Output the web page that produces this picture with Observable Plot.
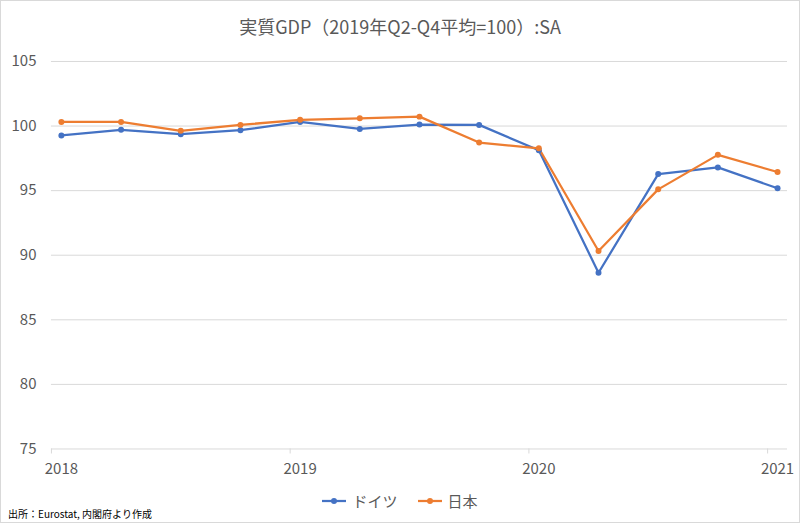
<!DOCTYPE html>
<html>
<head>
<meta charset="utf-8">
<script src="https://cdn.jsdelivr.net/npm/d3@7"></script>
<script src="https://cdn.jsdelivr.net/npm/@observablehq/plot@0.6"></script>
<style>
  html, body { margin: 0; padding: 0; background: #fff; }
  #chart { position: relative; width: 800px; height: 523px; box-sizing: border-box; border: 1px solid #d9d9d9; overflow: hidden; font-family: "Noto Sans CJK JP", "Noto Sans", sans-serif; }
  #title { position: absolute; left: 0; top: 12px; width: 798px; text-align: center; font-size: 18px; color: #595959; line-height: 26px; }
  #plot { position: absolute; left: -1px; top: 38px; }
  #legend { position: absolute; left: 0; top: 489px; width: 798px; display: flex; justify-content: center; gap: 20px; font-size: 15px; color: #595959; line-height: 22px; }
  #legend .item { display: flex; align-items: center; gap: 6px; }
  #caption { position: absolute; left: 7px; top: 506px; font-size: 10px; color: #000; line-height: 14px; }
</style>
</head>
<body>
<div id="chart">
  <div id="title">実質GDP（2019年Q2-Q4平均=100）:SA</div>
  <div id="plot"></div>
  <div id="legend"></div>
  <div id="caption">出所：Eurostat, 内閣府より作成</div>
</div>
<script>
const quarters = ["2018Q1","2018Q2","2018Q3","2018Q4","2019Q1","2019Q2","2019Q3","2019Q4","2020Q1","2020Q2","2020Q3","2020Q4","2021Q1"];
const germany = [99.27, 99.71, 99.37, 99.68, 100.32, 99.78, 100.12, 100.09, 98.12, 88.64, 96.28, 96.80, 95.18];
const japan   = [100.32, 100.32, 99.63, 100.09, 100.48, 100.60, 100.73, 98.72, 98.28, 90.33, 95.10, 97.77, 96.44];
const seriesNames = ["ドイツ", "日本"];
const seriesColors = ["#4472C4", "#ED7D31"];
const yearLabels = ["2018", "2019", "2020", "2021"];
const yTicks = [75, 80, 85, 90, 95, 100, 105];

// month index from Jan 2018
const monthIndex = q => (+q.slice(0, 4) - 2018) * 12 + (+q.slice(5) - 1) * 3;
const data = [];
quarters.forEach((q, i) => {
  data.push({m: monthIndex(q), v: germany[i], s: seriesNames[0]});
  data.push({m: monthIndex(q), v: japan[i], s: seriesNames[1]});
});
const yearPos = yearLabels.map(y => (+y - 2018) * 12);
const yearBoundaries = yearPos.map(p => p - 0.5);

const chart = Plot.plot({
  width: 800,
  height: 441,
  marginLeft: 51,
  marginRight: 12,
  marginTop: 22,
  marginBottom: 31,
  style: {fontFamily: "'Noto Sans CJK JP', 'Noto Sans', sans-serif", background: "transparent"},
  x: {domain: [-0.5, 36.5], axis: null, label: null},
  y: {domain: [75, 105], axis: null, label: null},
  color: {domain: seriesNames, range: seriesColors},
  marks: [
    Plot.gridY(yTicks, {stroke: "#d9d9d9", strokeOpacity: 1, strokeWidth: 1}),
    Plot.axisY(yTicks, {tickSize: 0, tickPadding: 15, fontSize: 15, color: "#595959", textAnchor: "end", label: null}),
    Plot.axisX(yearBoundaries, {tickSize: 5, tickFormat: () => "", stroke: "#d9d9d9", strokeOpacity: 1, label: null}),
    Plot.axisX(yearPos, {tickSize: 0, tickPadding: 14, fontSize: 15, color: "#595959", tickFormat: d => yearLabels[yearPos.indexOf(d)], label: null}),
    Plot.line(data, {x: "m", y: "v", z: "s", stroke: "s", strokeWidth: 2.25, strokeLinejoin: "round", strokeLinecap: "round"}),
    Plot.dot(data, {x: "m", y: "v", fill: "s", r: 3, stroke: null})
  ]
});
document.getElementById("plot").appendChild(chart);

const legend = document.getElementById("legend");
seriesNames.forEach((name, i) => {
  const item = document.createElement("div");
  item.className = "item";
  item.innerHTML = `<svg width="24" height="10"><line x1="0" y1="5" x2="24" y2="5" stroke="${seriesColors[i]}" stroke-width="2.25"/><circle cx="12" cy="5" r="3" fill="${seriesColors[i]}"/></svg><span>${name}</span>`;
  legend.appendChild(item);
});
</script>
</body>
</html>
